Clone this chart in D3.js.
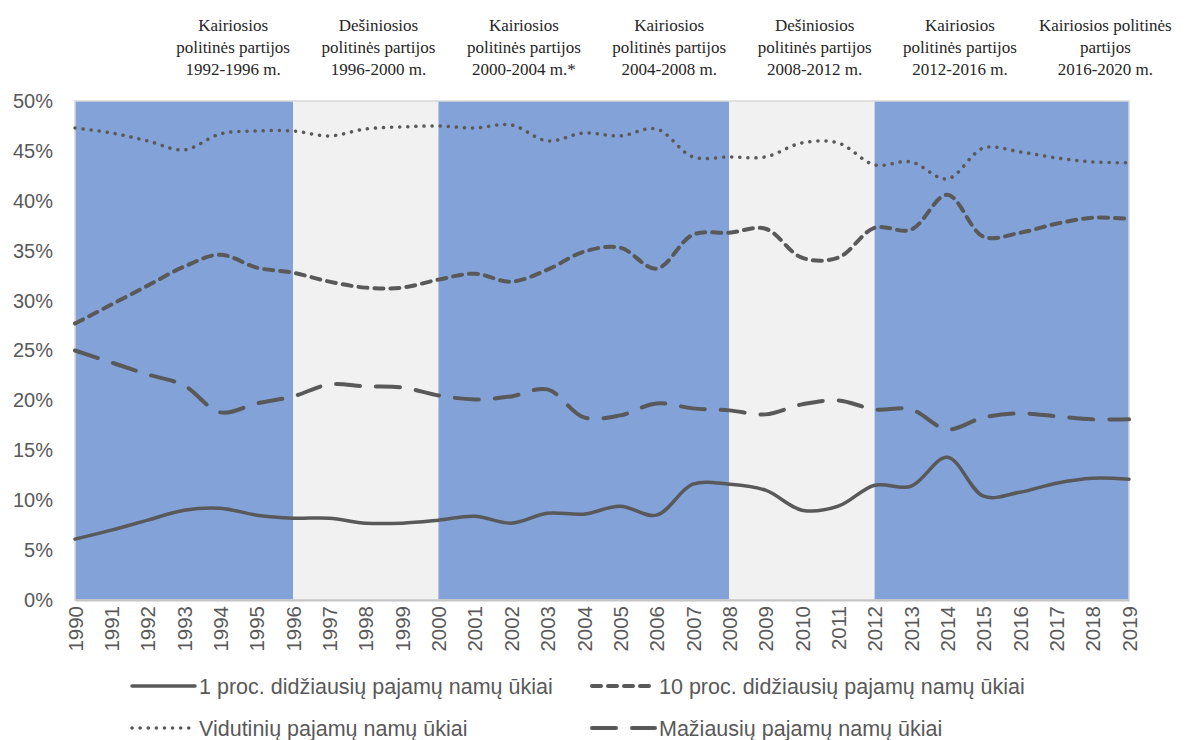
<!DOCTYPE html>
<html>
<head>
<meta charset="utf-8">
<script src="https://cdn.jsdelivr.net/npm/d3@7"></script>
<style>
  body { margin: 0; background: #fff; }
  svg { display: block; }
</style>
</head>
<body>
<div id="chart"></div>
<script>
//Width and height
var w = 1191;
var h = 740;

//Data
var years = d3.range(1990, 2020);

var top1 = [6.1, 7.0, 8.0, 9.0, 9.2, 8.5, 8.2, 8.2, 7.7, 7.7,
            8.0, 8.4, 7.7, 8.7, 8.6, 9.4, 8.5, 11.6, 11.6, 11.0,
            9.0, 9.4, 11.5, 11.4, 14.3, 10.4, 10.8, 11.7, 12.2, 12.1];

var top10 = [27.7, 29.6, 31.5, 33.4, 34.6, 33.3, 32.8, 31.9, 31.3, 31.3,
             32.1, 32.7, 31.9, 33.1, 34.9, 35.3, 33.2, 36.6, 36.8, 37.2,
             34.3, 34.3, 37.3, 37.1, 40.6, 36.4, 36.8, 37.7, 38.3, 38.2];

var middle = [47.3, 46.8, 46.0, 45.1, 46.7, 47.0, 47.0, 46.5, 47.2, 47.4,
              47.5, 47.3, 47.6, 46.0, 46.8, 46.5, 47.2, 44.4, 44.4, 44.4,
              45.8, 45.8, 43.6, 43.9, 42.2, 45.3, 44.9, 44.3, 43.9, 43.8];

var bottom = [25.0, 23.8, 22.6, 21.5, 18.8, 19.7, 20.4, 21.6, 21.4, 21.3,
              20.5, 20.1, 20.4, 21.1, 18.3, 18.5, 19.7, 19.2, 19.0, 18.6,
              19.6, 20.0, 19.1, 19.1, 17.1, 18.3, 18.7, 18.4, 18.1, 18.1];

var seriesNames = ["1 proc. didžiausių pajamų namų ūkiai",
                   "10 proc. didžiausių pajamų namų ūkiai",
                   "Vidutinių pajamų namų ūkiai",
                   "Mažiausių pajamų namų ūkiai"];

//Government terms (background bands)
var termStart = [1990, 1996, 2000, 2008, 2012];
var termEnd   = [1996, 2000, 2008, 2012, 2019];
var termLeft  = [true, false, true, false, true];

//Header labels over the chart
var headerMid = [1994, 1998, 2002, 2006, 2010, 2014, 2018];
var headerText = [
    ["Kairiosios", "politinės partijos", "1992-1996 m."],
    ["Dešiniosios", "politinės partijos", "1996-2000 m."],
    ["Kairiosios", "politinės partijos", "2000-2004 m.*"],
    ["Kairiosios", "politinės partijos", "2004-2008 m."],
    ["Dešiniosios", "politinės partijos", "2008-2012 m."],
    ["Kairiosios", "politinės partijos", "2012-2016 m."],
    ["Kairiosios politinės", "partijos", "2016-2020 m."]
];

var yTicks = [0, 5, 10, 15, 20, 25, 30, 35, 40, 45, 50];

var lineColor = "#595959";
var textColor = "#595959";

//Scales
var x = d3.scaleLinear().domain([1990, 2019]).range([75, 1129]);
var y = d3.scaleLinear().domain([0, 50]).range([600, 101]);

var svg = d3.select("#chart")
    .append("svg")
    .attr("width", w)
    .attr("height", h);

//Bands
svg.selectAll("rect.band")
    .data(termStart)
    .enter()
    .append("rect")
    .attr("class", "band")
    .attr("x", function(d) { return x(d); })
    .attr("y", y(50))
    .attr("width", function(d, i) { return x(termEnd[i]) - x(d); })
    .attr("height", y(0) - y(50))
    .style("fill", function(d, i) { return termLeft[i] ? "#83a2d7" : "#f1f1f1"; });

//Plot frame
svg.append("rect")
    .attr("x", x(1990))
    .attr("y", y(50))
    .attr("width", x(2019) - x(1990))
    .attr("height", y(0) - y(50))
    .style("fill", "none")
    .style("stroke", "#d9d9d9")
    .style("stroke-width", 1.5);

//Y axis
var yAxis = d3.axisLeft(y)
    .tickValues(yTicks)
    .tickSize(0)
    .tickPadding(22)
    .tickFormat(function(d) { return d + "%"; });

var gy = svg.append("g")
    .attr("transform", "translate(" + x(1990) + ",0)")
    .call(yAxis);
gy.select(".domain").remove();
gy.selectAll("text")
    .style("font-family", "'Liberation Sans', Arial, sans-serif")
    .style("font-size", "20px")
    .style("fill", textColor);

//X axis
var xAxis = d3.axisBottom(x)
    .tickValues(years)
    .tickSize(0)
    .tickFormat(d3.format("d"));

var gx = svg.append("g")
    .attr("transform", "translate(0," + y(0) + ")")
    .call(xAxis);
gx.select(".domain")
    .style("stroke", "#c4c4c4")
    .style("stroke-width", 2);
gx.selectAll("text")
    .attr("transform", "rotate(-90)")
    .attr("x", -6)
    .attr("y", 0)
    .attr("dy", "0.35em")
    .style("text-anchor", "end")
    .style("font-family", "'Liberation Sans', Arial, sans-serif")
    .style("font-size", "20.5px")
    .style("fill", textColor);

//Line styles
var styles = [
    { dash: null, width: 3.5, cap: "round" },
    { dash: "9,7", width: 4, cap: "round" },
    { dash: "0.1,8", width: 3.5, cap: "round" },
    { dash: "24,16", width: 4, cap: "round" }
];
var allSeries = [top1, top10, middle, bottom];

var line = d3.line()
    .x(function(d, i) { return x(years[i]); })
    .y(function(d) { return y(d); })
    .curve(d3.curveCatmullRom.alpha(0.5));

svg.selectAll("path.series")
    .data(allSeries)
    .enter()
    .append("path")
    .attr("class", "series")
    .attr("d", line)
    .style("fill", "none")
    .style("stroke", lineColor)
    .style("stroke-width", function(d, i) { return styles[i].width; })
    .style("stroke-linecap", function(d, i) { return styles[i].cap; })
    .style("stroke-dasharray", function(d, i) { return styles[i].dash; });

//Headers
var hdr = svg.selectAll("text.header")
    .data(headerText)
    .enter()
    .append("text")
    .attr("class", "header")
    .attr("text-anchor", "middle")
    .style("font-family", "'Liberation Serif', 'Times New Roman', serif")
    .style("font-size", "17px")
    .style("fill", "#262626");

hdr.selectAll("tspan")
    .data(function(d, i) { return d.map(function(t) { return { t: t, i: i }; }); })
    .enter()
    .append("tspan")
    .attr("x", function(d) { return x(headerMid[d.i] + 0.35); })
    .attr("y", function(d, j) { return 31 + j * 22; })
    .text(function(d) { return d.t; });

//Legend
var legendX = [130, 590];
var legendY = [686, 728];

var leg = svg.selectAll("g.legend")
    .data(seriesNames)
    .enter()
    .append("g")
    .attr("class", "legend")
    .attr("transform", function(d, i) {
        return "translate(" + legendX[i % 2] + "," + legendY[Math.floor(i / 2)] + ")";
    });

leg.append("line")
    .attr("x1", 2)
    .attr("x2", 65)
    .attr("y1", 0)
    .attr("y2", 0)
    .style("stroke", lineColor)
    .style("stroke-width", function(d, i) { return styles[i].width; })
    .style("stroke-linecap", function(d, i) { return styles[i].cap; })
    .style("stroke-dasharray", function(d, i) { return styles[i].dash; });

leg.append("text")
    .attr("x", 69)
    .attr("y", 0)
    .attr("dy", "0.35em")
    .style("font-family", "'Liberation Sans', Arial, sans-serif")
    .style("font-size", "21.5px")
    .style("fill", textColor)
    .text(function(d) { return d; });
</script>
</body>
</html>
